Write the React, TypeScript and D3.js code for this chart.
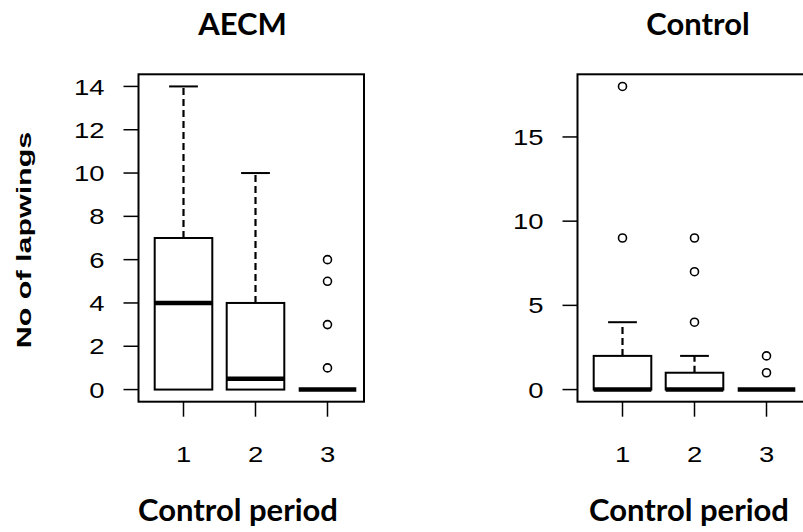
import React from "react";
import * as d3 from "d3";

// Control periods on the x axis
const periods = [1, 2, 3];

// AECM fields: five-number summaries per control period
const aecmLower = [0, 0, 0];
const aecmQ1 = [0, 0, 0];
const aecmMedian = [4, 0.5, 0];
const aecmQ3 = [7, 4, 0];
const aecmUpper = [14, 10, 0];
const aecmOutliers = [[], [], [1, 3, 5, 6]];
const aecmTicks = [0, 2, 4, 6, 8, 10, 12, 14];

// Control fields
const ctrlLower = [0, 0, 0];
const ctrlQ1 = [0, 0, 0];
const ctrlMedian = [0, 0, 0];
const ctrlQ3 = [2, 1, 0];
const ctrlUpper = [4, 2, 0];
const ctrlOutliers = [[9, 18], [4, 7, 9], [1, 2]];
const ctrlTicks = [0, 5, 10, 15];

const W = 803;
const H = 532;
const AXIS_FONT = "'Liberation Sans', Arial, sans-serif";
const TITLE_FONT = "Lato, 'Open Sans', sans-serif";
// axis numbers are drawn slightly widened
const NUM_STRETCH = 1.22;

type PanelProps = {
  left: number;
  right: number;
  top: number;
  bottom: number;
  yMax: number;
  lower: number[];
  q1: number[];
  median: number[];
  q3: number[];
  upper: number[];
  outliers: number[][];
  ticks: number[];
};

function BoxPanel(p: PanelProps) {
  // R-style 4% padding around the data range
  const padY = p.yMax * 0.04;
  const y = d3.scaleLinear().domain([-padY, p.yMax + padY]).range([p.bottom, p.top]);
  const x = d3.scaleLinear().domain([1, 3]).range([p.left + 45, p.left + 189]);
  const halfBox = x(1.4) - x(1);
  const halfStaple = halfBox / 2;
  const tickLen = 15;

  return (
    <g>
      {periods.map((per, i) => {
        const cx = x(per);
        const flat = p.q1[i] === p.q3[i];
        return (
          <g key={per}>
            {/* upper whisker */}
            {p.upper[i] > p.q3[i] && (
              <>
                <line x1={cx} x2={cx} y1={y(p.q3[i])} y2={y(p.upper[i])}
                  stroke="#000" strokeWidth={2.2} strokeDasharray="7,4" />
                <line x1={cx - halfStaple} x2={cx + halfStaple} y1={y(p.upper[i])} y2={y(p.upper[i])}
                  stroke="#000" strokeWidth={2} />
              </>
            )}
            {/* box */}
            {!flat && (
              <rect x={cx - halfBox} y={y(p.q3[i])} width={halfBox * 2}
                height={y(p.q1[i]) - y(p.q3[i])} fill="#fff" stroke="#000" strokeWidth={2} />
            )}
            {/* median */}
            <line x1={cx - halfBox} x2={cx + halfBox} y1={y(p.median[i])} y2={y(p.median[i])}
              stroke="#000" strokeWidth={4.5} />
            {/* outliers */}
            {p.outliers[i].map((v, k) => (
              <circle key={k} cx={cx} cy={y(v)} r={4} fill="none" stroke="#000" strokeWidth={1.6} />
            ))}
          </g>
        );
      })}

      {/* frame */}
      <rect x={p.left} y={p.top} width={p.right - p.left} height={p.bottom - p.top}
        fill="none" stroke="#000" strokeWidth={2} />

      {/* y axis */}
      {p.ticks.map((t) => (
        <g key={t}>
          <line x1={p.left - tickLen} x2={p.left} y1={y(t)} y2={y(t)} stroke="#000" strokeWidth={1.5} />
          <text transform={`translate(${p.left - 34},${y(t)}) scale(${NUM_STRETCH},1)`} dy="0.36em"
            textAnchor="end" fontFamily={AXIS_FONT} fontSize={22.5} fill="#000">{t}</text>
        </g>
      ))}

      {/* x axis */}
      {periods.map((per) => (
        <g key={per}>
          <line x1={x(per)} x2={x(per)} y1={p.bottom} y2={p.bottom + tickLen} stroke="#000" strokeWidth={1.5} />
          <text transform={`translate(${x(per)},${p.bottom + 60}) scale(${NUM_STRETCH},1)`}
            textAnchor="middle" fontFamily={AXIS_FONT} fontSize={22.5} fill="#000">{per}</text>
        </g>
      ))}
    </g>
  );
}

export default function App() {
  return (
    <svg width={W} height={H} style={{ position: "absolute", left: 0, top: 0, background: "#fff" }}>
      <rect width={W} height={H} fill="#fff" />

      <BoxPanel left={138.5} right={364} top={74.3} bottom={401.7} yMax={14}
        lower={aecmLower} q1={aecmQ1} median={aecmMedian} q3={aecmQ3} upper={aecmUpper}
        outliers={aecmOutliers} ticks={aecmTicks} />
      <BoxPanel left={577.5} right={810} top={74.3} bottom={401.7} yMax={18}
        lower={ctrlLower} q1={ctrlQ1} median={ctrlMedian} q3={ctrlQ3} upper={ctrlUpper}
        outliers={ctrlOutliers} ticks={ctrlTicks} />

      <text x={242.5} y={35} textAnchor="middle" fontFamily={TITLE_FONT} fontWeight={700} fontSize={31}>AECM</text>
      <text x={698} y={35} textAnchor="middle" fontFamily={TITLE_FONT} fontWeight={700} fontSize={31}>Control</text>

      <text x={238} y={521} textAnchor="middle" fontFamily={TITLE_FONT} fontWeight={700} fontSize={31}>Control period</text>
      <text x={689} y={521} textAnchor="middle" fontFamily={TITLE_FONT} fontWeight={700} fontSize={31}>Control period</text>

      <text transform="translate(31,240) rotate(-90) scale(1.45,1)" textAnchor="middle"
        fontFamily={AXIS_FONT} fontWeight={700} fontSize={21}>No of lapwings</text>
    </svg>
  );
}
